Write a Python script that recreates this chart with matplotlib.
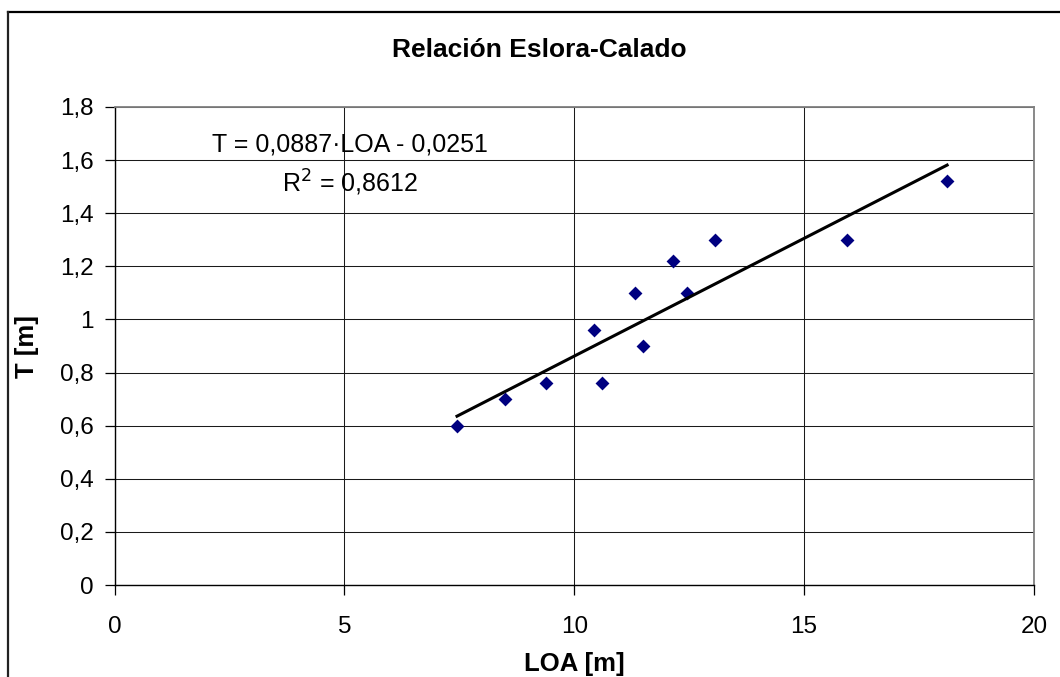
import matplotlib
matplotlib.use("Agg")
import matplotlib.pyplot as plt
from matplotlib.lines import Line2D
from matplotlib.ticker import FuncFormatter
import numpy as np

# Data
loa = [7.45, 8.49, 9.38, 10.42, 10.60, 11.32, 11.49, 12.14, 12.45, 13.06, 15.93, 18.11]
calado = [0.60, 0.70, 0.76, 0.96, 0.76, 1.10, 0.90, 1.22, 1.10, 1.30, 1.30, 1.52]
slope = 0.0887
intercept = -0.0251
r2_text = "0,8612"
title = "Relación Eslora-Calado"
xlabel = "LOA [m]"
ylabel = "T [m]"
xticks = [0, 5, 10, 15, 20]
yticks = [0, 0.2, 0.4, 0.6, 0.8, 1.0, 1.2, 1.4, 1.6, 1.8]

plt.rcParams['font.family'] = ['Liberation Sans', 'DejaVu Sans']

W, H = 1060, 677
fig = plt.figure(figsize=(W / 100, H / 100), dpi=100)
ax = fig.add_axes([114.5 / W, 1 - 585 / H, (1034 - 114.5) / W, (585 - 107) / H])

# gridlines
ax.set_axisbelow(True)
ax.grid(True, color='#1a1a1a', linewidth=0.75)

# scatter
ax.scatter(loa, calado, marker='D', s=50, color='#000080', zorder=3, linewidths=0)

# trend line from coefficients
xl = np.array([min(loa), max(loa)])
ax.plot(xl, slope * xl + intercept, color='black', linewidth=2.2, zorder=4)

ax.set_xlim(0, 20)
ax.set_ylim(0, 1.8)
ax.set_xticks(xticks)
ax.set_yticks(yticks)

def fmt(v, pos):
    s = ('%g' % round(v, 1))
    return s.replace('.', ',')

ax.yaxis.set_major_formatter(FuncFormatter(fmt))
ax.xaxis.set_major_formatter(FuncFormatter(fmt))
ax.tick_params(axis='both', direction='out', length=7, width=0.9, color='black',
               labelsize=17.5, labelcolor='black')
ax.tick_params(axis='x', pad=15)
ax.tick_params(axis='y', pad=8)

for side in ['left', 'bottom']:
    ax.spines[side].set_color('black')
    ax.spines[side].set_linewidth(1.0)
for side in ['top', 'right']:
    ax.spines[side].set_color('#808080')
    ax.spines[side].set_linewidth(1.3)

# equation text
ax.text(5.12, 1.66, "T = 0,0887·LOA - 0,0251", ha='center', va='center', fontsize=18, color='black')
ax.text(5.12, 1.513, "R$^2$ = " + r2_text, ha='center', va='center', fontsize=18, color='black')

# labels and title (figure coordinates)
fig.text(539.5 / W, 1 - 50 / H, title, ha='center', va='center', fontsize=19, fontweight='bold')
fig.text(574.5 / W, 1 - 664 / H, xlabel, ha='center', va='center', fontsize=18.5, fontweight='bold')
fig.text(27 / W, 1 - 346 / H, ylabel, ha='center', va='center', fontsize=18.5, fontweight='bold', rotation=90)

# chart area border (partially visible)
fig.add_artist(Line2D([7.5 / W, 1.0], [1 - 11.5 / H, 1 - 11.5 / H], transform=fig.transFigure,
                      color='black', linewidth=1.6))
fig.add_artist(Line2D([7.5 / W, 7.5 / W], [0.0, 1 - 11.5 / H], transform=fig.transFigure,
                      color='#222222', linewidth=1.6))

fig.savefig("out.png", dpi=100)
